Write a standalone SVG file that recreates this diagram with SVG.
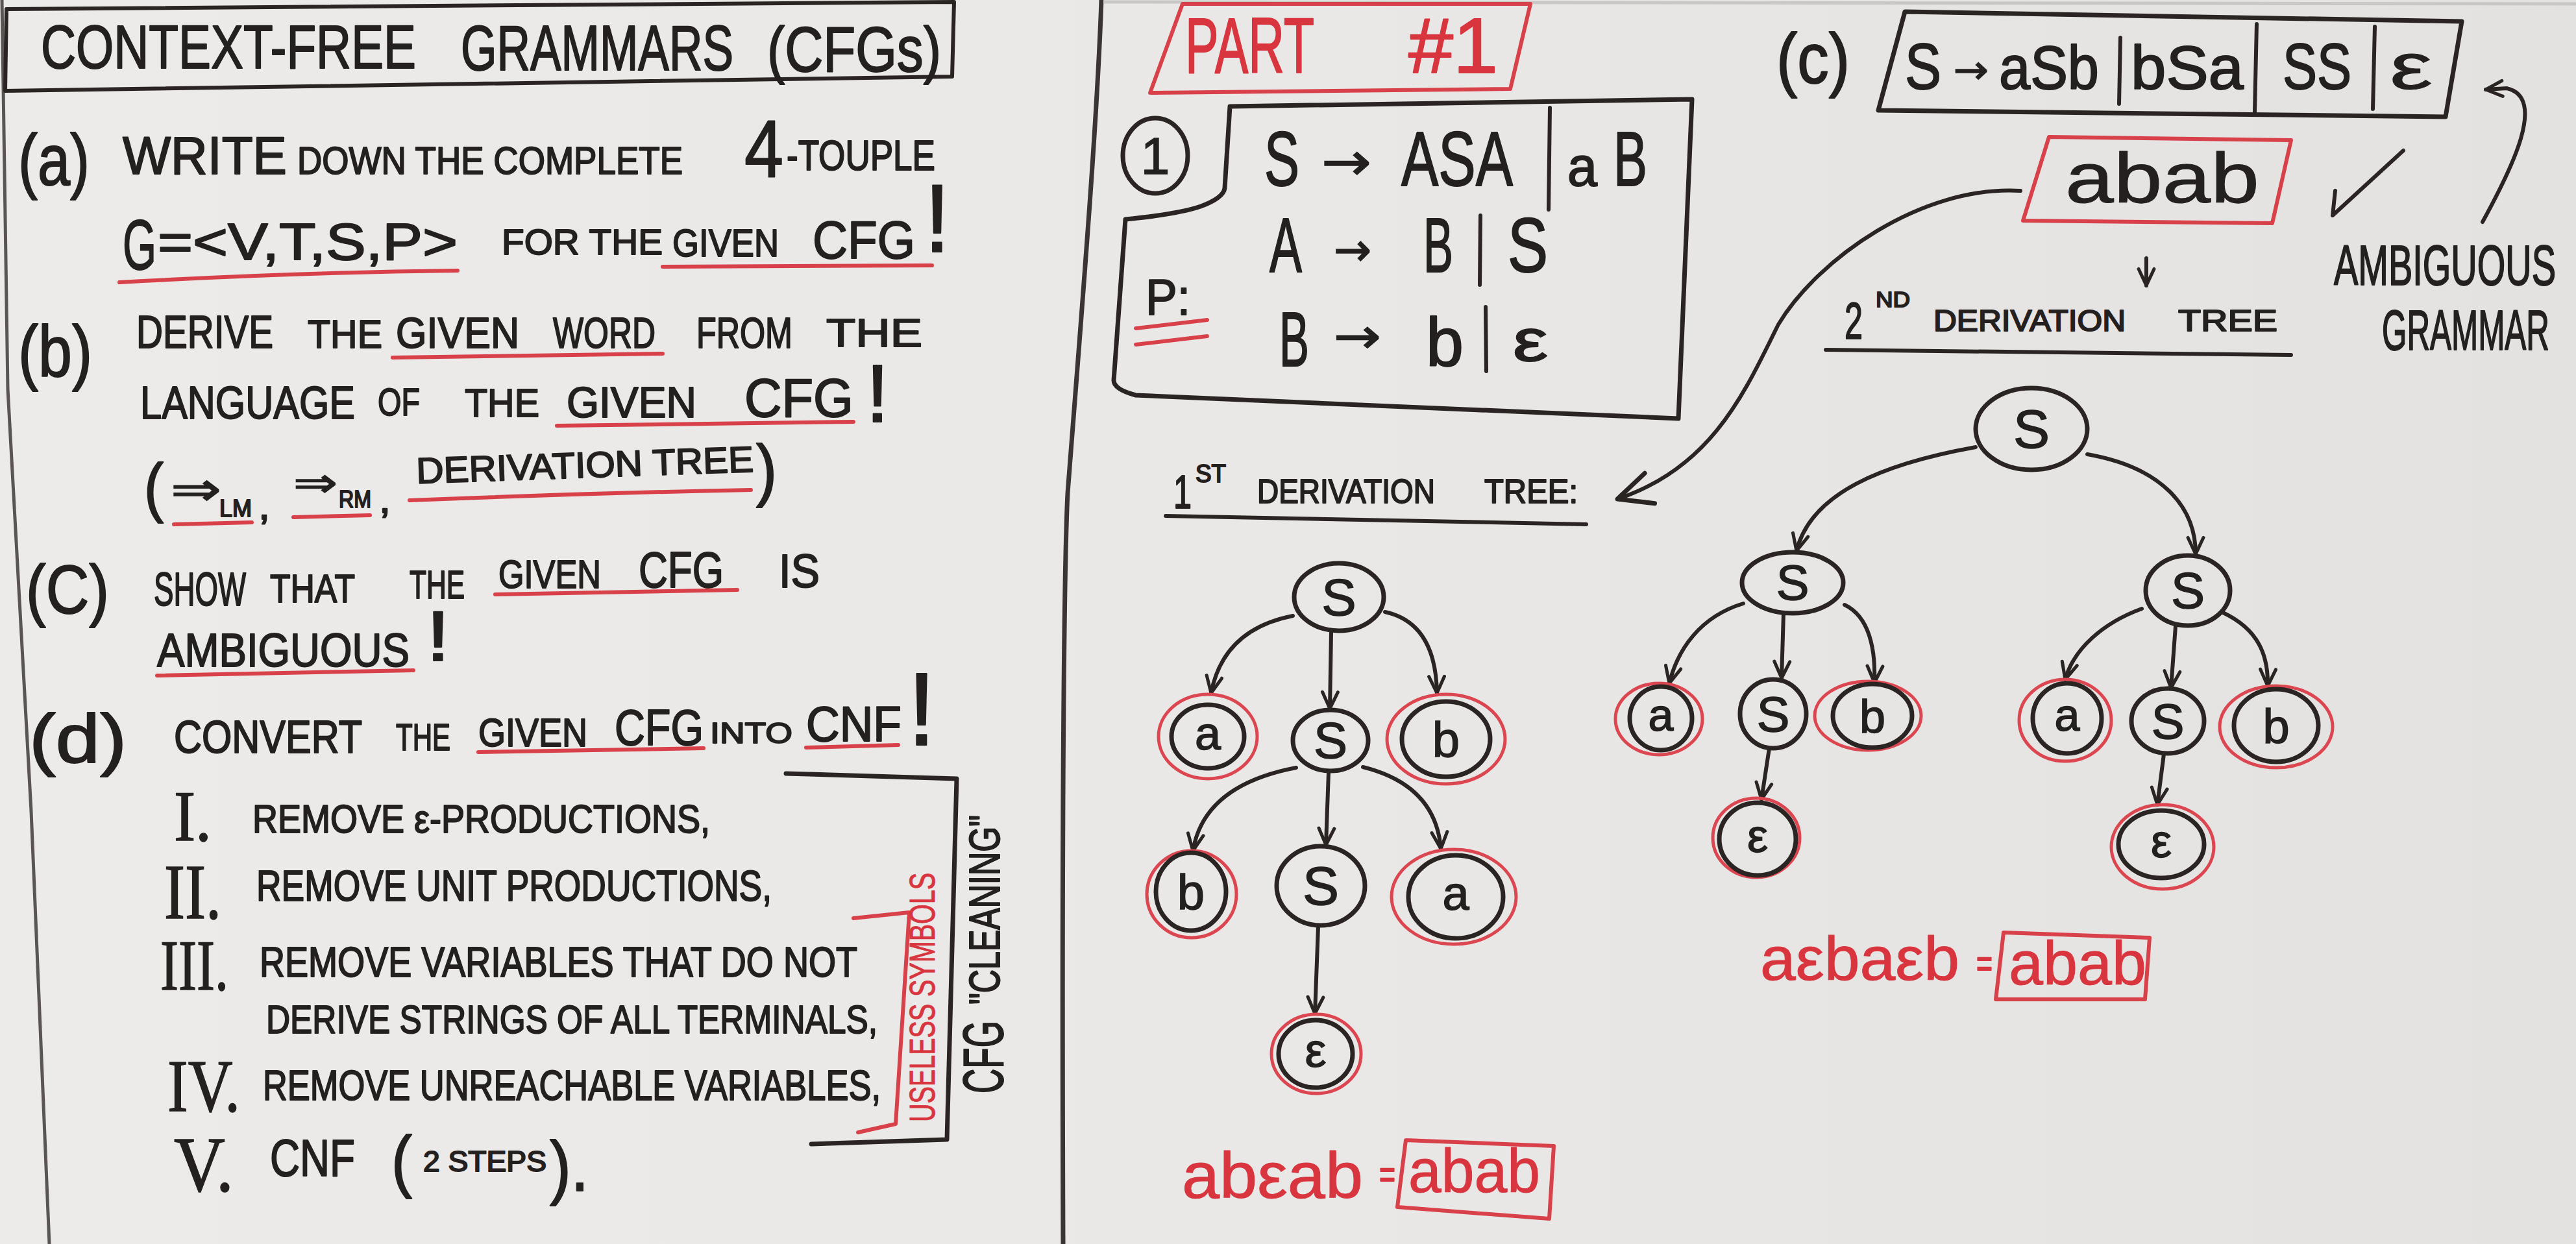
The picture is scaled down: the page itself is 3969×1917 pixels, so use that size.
<svg xmlns="http://www.w3.org/2000/svg" width="3969" height="1917" viewBox="0 0 3969 1917">
<defs>
<linearGradient id="bg" x1="0" y1="0" x2="1" y2="0">
<stop offset="0" stop-color="#ecebe9"/>
<stop offset="0.5" stop-color="#eae8e6"/>
<stop offset="1" stop-color="#e4e2e0"/>
</linearGradient>
<marker id="ah" viewBox="0 0 20 20" refX="18" refY="10" markerWidth="34" markerHeight="34" markerUnits="userSpaceOnUse" orient="auto"><path d="M3,3 L18,10 L3,17" fill="none" stroke="#2a2523" stroke-width="3" stroke-linecap="round" stroke-linejoin="round"/></marker>
<marker id="ahL" viewBox="0 0 20 20" refX="18" refY="10" markerWidth="70" markerHeight="70" markerUnits="userSpaceOnUse" orient="auto"><path d="M3,3 L18,10 L3,17" fill="none" stroke="#2a2523" stroke-width="2" stroke-linecap="round" stroke-linejoin="round"/></marker>
<style>
.hw{font-family:"Liberation Sans","DejaVu Sans",Arial,sans-serif;fill:#242020;stroke:#242020;stroke-width:2;stroke-linejoin:round}
.sf{font-family:"Liberation Serif","DejaVu Serif",serif;fill:#242020;stroke:#242020;stroke-width:1.5}
.dv{font-family:"DejaVu Sans","Liberation Sans",sans-serif;fill:#242020;stroke:#242020;stroke-width:1.5}
.rt{fill:#d8353f;stroke:#d8353f}
.ink{fill:none;stroke:#2a2523;stroke-width:8;stroke-linecap:round;stroke-linejoin:round}
.thin{fill:none;stroke:#3a3533;stroke-width:5;stroke-linecap:round;stroke-linejoin:round}
.red{fill:none;stroke:#d9414a;stroke-width:6;stroke-linecap:round;stroke-linejoin:round}
.node{fill:none;stroke:#2a2523;stroke-width:7}
.ring{fill:none;stroke:#dc4650;stroke-width:5}
.edge{fill:none;stroke:#2a2523;stroke-width:6;stroke-linecap:round;marker-end:url(#ah)}
.lbl{font-family:"Liberation Sans","DejaVu Sans",sans-serif;fill:#242020;stroke:#242020;stroke-width:1.5;text-anchor:middle}
</style>
</defs>
<rect width="3969" height="1917" fill="url(#bg)"/>

<g id="board-lines">
<path class="thin" d="M3,0 L12,600 L48,1250 L76,1917" style="stroke:#5a5553;stroke-width:5"/>
<path class="thin" d="M1697,0 C1690,200 1665,500 1645,760 C1638,900 1636,1400 1638,1917" style="stroke-width:7"/>
<path d="M1700,3 L3969,6" stroke="#c9c7c5" stroke-width="5" fill="none"/>
</g>

<g id="title">
<path class="ink" d="M10,14 L1470,3 L1467,118 L8,140 Z" style="stroke-width:6"/>
<text class="hw" x="63" y="105" font-size="95" textLength="578" lengthAdjust="spacingAndGlyphs">CONTEXT-FREE</text>
<text class="hw" x="710" y="108" font-size="98" textLength="420" lengthAdjust="spacingAndGlyphs">GRAMMARS</text>
<text class="hw" x="1182" y="110" font-size="98" textLength="268" lengthAdjust="spacingAndGlyphs">(CFGs)</text>
</g>

<g id="task-a">
<text class="hw" x="28" y="285" font-size="112" textLength="110" lengthAdjust="spacingAndGlyphs">(a)</text>
<text class="hw" x="189" y="268" font-size="82" textLength="253" lengthAdjust="spacingAndGlyphs">WRITE</text>
<text class="hw" x="458" y="268" font-size="60" textLength="594" lengthAdjust="spacingAndGlyphs">DOWN THE COMPLETE</text>
<text class="hw" x="1147" y="272" font-size="125" textLength="60" lengthAdjust="spacingAndGlyphs">4</text>
<text class="hw" x="1212" y="262" font-size="64" textLength="229" lengthAdjust="spacingAndGlyphs">-TOUPLE</text>
<text class="hw" x="189" y="415" font-size="110" textLength="52" lengthAdjust="spacingAndGlyphs">G</text>
<text class="hw" x="243" y="400" font-size="80" textLength="462" lengthAdjust="spacingAndGlyphs">=&lt;V,T,S,P&gt;</text>
<text class="hw" x="773" y="392" font-size="56" textLength="248" lengthAdjust="spacingAndGlyphs">FOR THE</text>
<text class="hw" x="1036" y="395" font-size="60" textLength="164" lengthAdjust="spacingAndGlyphs">GIVEN</text>
<text class="hw" x="1252" y="398" font-size="82" textLength="158" lengthAdjust="spacingAndGlyphs">CFG</text>
<text class="hw" x="1424" y="388" font-size="148" textLength="40" lengthAdjust="spacingAndGlyphs">!</text>
<path class="red" d="M184,435 Q450,420 705,417"/>
<path class="red" d="M1021,411 L1436,409"/>
</g>

<g id="task-b">
<text class="hw" x="28" y="580" font-size="112" textLength="114" lengthAdjust="spacingAndGlyphs">(b)</text>
<text class="hw" x="210" y="536" font-size="70" textLength="211" lengthAdjust="spacingAndGlyphs">DERIVE</text>
<text class="hw" x="474" y="536" font-size="62" textLength="115" lengthAdjust="spacingAndGlyphs">THE</text>
<text class="hw" x="610" y="536" font-size="66" textLength="190" lengthAdjust="spacingAndGlyphs">GIVEN</text>
<text class="hw" x="852" y="536" font-size="66" textLength="158" lengthAdjust="spacingAndGlyphs">WORD</text>
<text class="hw" x="1073" y="536" font-size="66" textLength="148" lengthAdjust="spacingAndGlyphs">FROM</text>
<text class="hw" x="1273" y="534" font-size="62" textLength="148" lengthAdjust="spacingAndGlyphs">THE</text>
<path class="red" d="M605,551 L1021,545"/>
<text class="hw" x="216" y="645" font-size="70" textLength="331" lengthAdjust="spacingAndGlyphs">LANGUAGE</text>
<text class="hw" x="582" y="640" font-size="60" textLength="65" lengthAdjust="spacingAndGlyphs">OF</text>
<text class="hw" x="716" y="642" font-size="62" textLength="115" lengthAdjust="spacingAndGlyphs">THE</text>
<text class="hw" x="873" y="643" font-size="66" textLength="200" lengthAdjust="spacingAndGlyphs">GIVEN</text>
<text class="hw" x="1147" y="642" font-size="84" textLength="168" lengthAdjust="spacingAndGlyphs">CFG</text>
<text class="hw" x="1334" y="650" font-size="126" textLength="36" lengthAdjust="spacingAndGlyphs">!</text>
<path class="red" d="M858,656 L1315,650"/>
<text class="hw" x="222" y="785" font-size="100" textLength="30" lengthAdjust="spacingAndGlyphs">(</text>
<text class="dv" x="263" y="778" font-size="70" textLength="78" lengthAdjust="spacingAndGlyphs">⇒</text>
<text class="hw" x="338" y="796" font-size="36" textLength="50" lengthAdjust="spacingAndGlyphs">LM</text>
<text class="hw" x="398" y="800" font-size="60" textLength="18" lengthAdjust="spacingAndGlyphs">,</text>
<text class="dv" x="452" y="765" font-size="62" textLength="68" lengthAdjust="spacingAndGlyphs">⇒</text>
<text class="hw" x="522" y="782" font-size="36" textLength="50" lengthAdjust="spacingAndGlyphs">RM</text>
<text class="hw" x="584" y="790" font-size="60" textLength="18" lengthAdjust="spacingAndGlyphs">,</text>
<text class="hw" x="642" y="745" font-size="56" textLength="520" lengthAdjust="spacingAndGlyphs" transform="rotate(-2 642 745)">DERIVATION TREE</text>
<text class="hw" x="1165" y="760" font-size="105" textLength="32" lengthAdjust="spacingAndGlyphs">)</text>
<path class="red" d="M268,808 L388,805"/>
<path class="red" d="M452,797 L570,794"/>
<path class="red" d="M631,771 Q900,760 1157,755"/>
</g>

<g id="task-c">
<text class="hw" x="40" y="945" font-size="105" textLength="128" lengthAdjust="spacingAndGlyphs">(C)</text>
<text class="hw" x="237" y="933" font-size="72" textLength="142" lengthAdjust="spacingAndGlyphs">SHOW</text>
<text class="hw" x="416" y="928" font-size="62" textLength="131" lengthAdjust="spacingAndGlyphs">THAT</text>
<text class="hw" x="631" y="922" font-size="62" textLength="85" lengthAdjust="spacingAndGlyphs">THE</text>
<text class="hw" x="768" y="906" font-size="62" textLength="158" lengthAdjust="spacingAndGlyphs">GIVEN</text>
<text class="hw" x="984" y="905" font-size="78" textLength="131" lengthAdjust="spacingAndGlyphs">CFG</text>
<text class="hw" x="1200" y="905" font-size="72" textLength="63" lengthAdjust="spacingAndGlyphs">IS</text>
<path class="red" d="M763,916 L1136,909"/>
<text class="hw" x="242" y="1027" font-size="72" textLength="389" lengthAdjust="spacingAndGlyphs">AMBIGUOUS</text>
<text class="hw" x="656" y="1018" font-size="110" textLength="38" lengthAdjust="spacingAndGlyphs">!</text>
<path class="red" d="M242,1041 L637,1033"/>
</g>

<g id="task-d">
<text class="hw" x="45" y="1175" font-size="105" textLength="150" lengthAdjust="spacingAndGlyphs">(d)</text>
<text class="hw" x="268" y="1160" font-size="70" textLength="290" lengthAdjust="spacingAndGlyphs">CONVERT</text>
<text class="hw" x="610" y="1156" font-size="58" textLength="84" lengthAdjust="spacingAndGlyphs">THE</text>
<text class="hw" x="737" y="1150" font-size="62" textLength="168" lengthAdjust="spacingAndGlyphs">GIVEN</text>
<text class="hw" x="947" y="1148" font-size="78" textLength="137" lengthAdjust="spacingAndGlyphs">CFG</text>
<text class="hw" x="1094" y="1145" font-size="44" textLength="127" lengthAdjust="spacingAndGlyphs">INTO</text>
<text class="hw" x="1242" y="1142" font-size="76" textLength="147" lengthAdjust="spacingAndGlyphs">CNF</text>
<text class="hw" x="1398" y="1148" font-size="160" textLength="44" lengthAdjust="spacingAndGlyphs">!</text>
<path class="red" d="M737,1159 L1084,1153"/>
<path class="red" d="M1242,1152 L1384,1148"/>
</g>

<g id="steps">
<text class="sf" x="268" y="1295" font-size="110" textLength="58" lengthAdjust="spacingAndGlyphs">I.</text>
<text class="hw" x="389" y="1283" font-size="62" textLength="705" lengthAdjust="spacingAndGlyphs">REMOVE ε-PRODUCTIONS,</text>
<text class="sf" x="253" y="1415" font-size="120" textLength="88" lengthAdjust="spacingAndGlyphs">II.</text>
<text class="hw" x="395" y="1388" font-size="66" textLength="794" lengthAdjust="spacingAndGlyphs">REMOVE UNIT PRODUCTIONS,</text>
<text class="sf" x="247" y="1525" font-size="110" textLength="105" lengthAdjust="spacingAndGlyphs">III.</text>
<text class="hw" x="400" y="1505" font-size="64" textLength="921" lengthAdjust="spacingAndGlyphs">REMOVE VARIABLES THAT DO NOT</text>
<text class="hw" x="410" y="1592" font-size="62" textLength="942" lengthAdjust="spacingAndGlyphs">DERIVE STRINGS OF ALL TERMINALS,</text>
<text class="sf" x="258" y="1712" font-size="115" textLength="112" lengthAdjust="spacingAndGlyphs">IV.</text>
<text class="hw" x="405" y="1695" font-size="64" textLength="952" lengthAdjust="spacingAndGlyphs">REMOVE UNREACHABLE VARIABLES,</text>
<text class="sf" x="268" y="1835" font-size="120" textLength="92" lengthAdjust="spacingAndGlyphs">V.</text>
<text class="hw" x="416" y="1812" font-size="80" textLength="131" lengthAdjust="spacingAndGlyphs">CNF</text>
<text class="hw" x="603" y="1825" font-size="105" textLength="32" lengthAdjust="spacingAndGlyphs">(</text>
<text class="hw" x="652" y="1805" font-size="44" textLength="190" lengthAdjust="spacingAndGlyphs">2 STEPS</text>
<text class="hw" x="847" y="1835" font-size="110" textLength="60" lengthAdjust="spacingAndGlyphs">).</text>
<path class="ink" d="M1211,1192 L1474,1200 L1459,1756 L1250,1763" style="stroke-width:7"/>
<path class="red" d="M1315,1415 L1401,1406 L1380,1732 L1322,1745"/>
<text class="hw rt" transform="translate(1440,1729) rotate(-90)" font-size="56" textLength="384" lengthAdjust="spacingAndGlyphs" style="stroke-width:1">USELESS SYMBOLS</text>
<text class="hw" transform="translate(1545,1685) rotate(-90)" font-size="88" textLength="112" lengthAdjust="spacingAndGlyphs">CFG</text>
<text class="hw" transform="translate(1540,1548) rotate(-90)" font-size="66" textLength="292" lengthAdjust="spacingAndGlyphs">"CLEANING"</text>
</g>

<g id="part1">
<path class="red" d="M1822,6 L2358,6 L2327,137 L1772,143 Z"/>
<text class="hw rt" x="1826" y="112" font-size="120" textLength="199" lengthAdjust="spacingAndGlyphs">PART</text>
<text class="hw rt" x="2170" y="112" font-size="120" textLength="138" lengthAdjust="spacingAndGlyphs">#1</text>
</g>

<g id="grammar-1">
<ellipse class="ink" cx="1780" cy="240" rx="50" ry="58" style="stroke-width:7"/>
<text class="lbl" x="1780" y="268" font-size="80">1</text>
<path class="ink" d="M1895,164 L2607,153 L2586,645 L1750,609 Q1716,600 1716,586 L1734,338 Q1815,330 1850,318 Q1885,305 1887,290 Z" style="stroke-width:7"/>
<text class="hw" x="1948" y="286" font-size="118" textLength="54" lengthAdjust="spacingAndGlyphs">S</text>
<text class="dv" x="2036" y="277" font-size="80" textLength="77" lengthAdjust="spacingAndGlyphs">→</text>
<text class="hw" x="2159" y="286" font-size="118" textLength="172" lengthAdjust="spacingAndGlyphs">ASA</text>
<path class="ink" d="M2388,166 L2386,323" style="stroke-width:6"/>
<text class="hw" x="2415" y="286" font-size="85" textLength="46" lengthAdjust="spacingAndGlyphs">a</text>
<text class="hw" x="2486" y="286" font-size="118" textLength="52" lengthAdjust="spacingAndGlyphs">B</text>
<text class="hw" x="1956" y="419" font-size="118" textLength="50" lengthAdjust="spacingAndGlyphs">A</text>
<text class="dv" x="2055" y="409" font-size="70" textLength="58" lengthAdjust="spacingAndGlyphs">→</text>
<text class="hw" x="2193" y="419" font-size="118" textLength="46" lengthAdjust="spacingAndGlyphs">B</text>
<path class="ink" d="M2281,332 L2280,439" style="stroke-width:6"/>
<text class="hw" x="2323" y="419" font-size="118" textLength="62" lengthAdjust="spacingAndGlyphs">S</text>
<text class="hw" x="1971" y="564" font-size="118" textLength="46" lengthAdjust="spacingAndGlyphs">B</text>
<text class="dv" x="2055" y="544" font-size="75" textLength="73" lengthAdjust="spacingAndGlyphs">→</text>
<text class="hw" x="2197" y="564" font-size="105" textLength="58" lengthAdjust="spacingAndGlyphs">b</text>
<path class="ink" d="M2289,473 L2290,572" style="stroke-width:6"/>
<text class="hw" x="2331" y="556" font-size="90" textLength="54" lengthAdjust="spacingAndGlyphs">ε</text>
<text class="hw" x="1765" y="485" font-size="78" textLength="69" lengthAdjust="spacingAndGlyphs">P:</text>
<path class="red" d="M1750,506 L1860,493"/>
<path class="red" d="M1750,531 L1860,518"/>
</g>

<g id="grammar-c">
<text class="hw" x="2737" y="128" font-size="110" textLength="113" lengthAdjust="spacingAndGlyphs">(c)</text>
<path class="ink" d="M2935,18 L3793,33 L3768,180 L2894,170 Z" style="stroke-width:7"/>
<text class="hw" x="2935" y="137" font-size="100" textLength="56" lengthAdjust="spacingAndGlyphs">S</text>
<text class="dv" x="3010" y="128" font-size="60" textLength="54" lengthAdjust="spacingAndGlyphs">→</text>
<text class="hw" x="3080" y="137" font-size="95" textLength="154" lengthAdjust="spacingAndGlyphs">aSb</text>
<path class="ink" d="M3267,58 L3265,160" style="stroke-width:6"/>
<text class="hw" x="3283" y="137" font-size="95" textLength="174" lengthAdjust="spacingAndGlyphs">bSa</text>
<path class="ink" d="M3477,37 L3474,172" style="stroke-width:6"/>
<text class="hw" x="3517" y="137" font-size="100" textLength="106" lengthAdjust="spacingAndGlyphs">SS</text>
<path class="ink" d="M3659,41 L3656,168" style="stroke-width:6"/>
<text class="hw" x="3682" y="137" font-size="100" textLength="66" lengthAdjust="spacingAndGlyphs" style="stroke-width:1">ε</text>
</g>

<g id="word-abab">
<path class="red" d="M3157,211 L3530,216 L3501,344 L3117,340 Z"/>
<text class="hw" x="3182" y="312" font-size="110" textLength="299" lengthAdjust="spacingAndGlyphs" style="stroke-width:1">abab</text>
</g>

<g id="ambiguous">
<path class="ink" d="M3598,294 L3594,332 L3703,232" style="stroke-width:6"/>
<text class="hw" x="3938" y="439" font-size="88" textLength="342" lengthAdjust="spacingAndGlyphs" text-anchor="end">AMBIGUOUS</text>
<text class="hw" x="3928" y="539" font-size="88" textLength="258" lengthAdjust="spacingAndGlyphs" text-anchor="end">GRAMMAR</text>
</g>

<g id="heading-tree-2">
<text class="hw" x="2842" y="522" font-size="80" textLength="28" lengthAdjust="spacingAndGlyphs">2</text>
<text class="hw" x="2890" y="473" font-size="34" textLength="53" lengthAdjust="spacingAndGlyphs">ND</text>
<text class="hw" x="2979" y="510" font-size="46" textLength="296" lengthAdjust="spacingAndGlyphs">DERIVATION</text>
<text class="hw" x="3356" y="510" font-size="46" textLength="153" lengthAdjust="spacingAndGlyphs">TREE</text>
<path class="ink" d="M2813,539 L3530,547" style="stroke-width:6"/>
</g>

<g id="heading-tree-1">
<text class="hw" x="1808" y="783" font-size="72" textLength="28" lengthAdjust="spacingAndGlyphs">1</text>
<text class="hw" x="1842" y="743" font-size="38" textLength="47" lengthAdjust="spacingAndGlyphs">ST</text>
<text class="hw" x="1937" y="775" font-size="52" textLength="274" lengthAdjust="spacingAndGlyphs">DERIVATION</text>
<text class="hw" x="2287" y="775" font-size="52" textLength="144" lengthAdjust="spacingAndGlyphs">TREE:</text>
<path class="ink" d="M1796,795 L2444,808" style="stroke-width:6"/>
</g>

<g id="connectors">
<path class="edge" d="M1992,949 Q1885,970 1866,1068"/>
<path class="edge" d="M2051,975 L2049,1092"/>
<path class="edge" d="M2134,943 Q2212,960 2214,1068"/>
<path class="edge" d="M1997,1183 Q1855,1210 1838,1311"/>
<path class="edge" d="M2047,1190 L2043,1302"/>
<path class="edge" d="M2100,1182 Q2212,1210 2220,1308"/>
<path class="edge" d="M2031,1428 L2026,1562"/>
<path class="edge" d="M3044,689 C2900,715 2790,760 2768,849"/>
<path class="edge" d="M3216,700 C3330,720 3383,780 3383,854"/>
<path class="edge" d="M2686,930 C2620,950 2585,1000 2572,1053"/>
<path class="edge" d="M2748,945 L2745,1045"/>
<path class="edge" d="M2842,932 C2880,950 2890,1000 2888,1052"/>
<path class="edge" d="M2726,1153 L2714,1232"/>
<path class="edge" d="M3300,938 C3240,960 3195,1000 3182,1047"/>
<path class="edge" d="M3352,965 L3345,1060"/>
<path class="edge" d="M3425,944 C3480,970 3495,1010 3494,1057"/>
<path class="edge" d="M3334,1162 L3324,1240"/>
<path class="edge" d="M3307,398 L3307,440"/>
<path class="edge" d="M3113,294 C2960,285 2800,400 2740,500 C2690,600 2640,720 2492,769" style="marker-end:url(#ahL)"/>
<path class="edge" d="M3825,342 C3870,260 3925,150 3862,136 L3830,138" style="stroke-width:6"/>
</g>

<g id="t1-root"><ellipse class="node" cx="2063" cy="920" rx="69" ry="52"/><text class="lbl" x="2063" y="948" font-size="80">S</text></g>
<g id="t1-a"><ellipse class="ring" cx="1861" cy="1135" rx="76" ry="65"/><ellipse class="node" cx="1861" cy="1135" rx="56" ry="49"/><text class="lbl" x="1861" y="1155" font-size="72">a</text></g>
<g id="t1-S1"><ellipse class="node" cx="2050" cy="1141" rx="58" ry="47"/><text class="lbl" x="2050" y="1168" font-size="78">S</text></g>
<g id="t1-b"><ellipse class="ring" cx="2228" cy="1139" rx="91" ry="69"/><ellipse class="node" cx="2228" cy="1139" rx="68" ry="58"/><text class="lbl" x="2228" y="1166" font-size="76">b</text></g>
<g id="t1-b2"><ellipse class="ring" cx="1836" cy="1378" rx="69" ry="67"/><ellipse class="node" cx="1835" cy="1374" rx="54" ry="60"/><text class="lbl" x="1835" y="1401" font-size="76">b</text></g>
<g id="t1-S2"><ellipse class="node" cx="2035" cy="1365" rx="68" ry="61"/><text class="lbl" x="2035" y="1394" font-size="84">S</text></g>
<g id="t1-a2"><ellipse class="ring" cx="2240" cy="1382" rx="96" ry="73"/><ellipse class="node" cx="2243" cy="1382" rx="73" ry="64"/><text class="lbl" x="2243" y="1402" font-size="74">a</text></g>
<g id="t1-eps"><ellipse class="ring" cx="2028" cy="1624" rx="69" ry="61"/><ellipse class="node" cx="2027" cy="1624" rx="57" ry="52"/><text class="lbl" x="2027" y="1644" font-size="74">ε</text></g>

<g id="t2-root"><ellipse class="node" cx="3130" cy="661" rx="86" ry="63"/><text class="lbl" x="3130" y="690" font-size="84">S</text></g>
<g id="t2-L"><ellipse class="node" cx="2762" cy="898" rx="78" ry="47"/><text class="lbl" x="2762" y="924" font-size="76">S</text></g>
<g id="t2-La"><ellipse class="ring" cx="2556" cy="1108" rx="67" ry="55"/><ellipse class="node" cx="2559" cy="1107" rx="48" ry="49"/><text class="lbl" x="2559" y="1126" font-size="70">a</text></g>
<g id="t2-LS"><ellipse class="node" cx="2732" cy="1100" rx="51" ry="53"/><text class="lbl" x="2732" y="1127" font-size="76">S</text></g>
<g id="t2-Lb"><ellipse class="ring" cx="2878" cy="1103" rx="82" ry="53"/><ellipse class="node" cx="2885" cy="1103" rx="61" ry="49"/><text class="lbl" x="2885" y="1129" font-size="72">b</text></g>
<g id="t2-Leps"><ellipse class="ring" cx="2706" cy="1291" rx="67" ry="61"/><ellipse class="node" cx="2708" cy="1293" rx="59" ry="56"/><text class="lbl" x="2708" y="1313" font-size="72">ε</text></g>
<g id="t2-R"><ellipse class="node" cx="3371" cy="910" rx="65" ry="54"/><text class="lbl" x="3371" y="937" font-size="78">S</text></g>
<g id="t2-Ra"><ellipse class="ring" cx="3182" cy="1110" rx="71" ry="63"/><ellipse class="node" cx="3185" cy="1107" rx="53" ry="54"/><text class="lbl" x="3185" y="1126" font-size="70">a</text></g>
<g id="t2-RS"><ellipse class="node" cx="3340" cy="1111" rx="56" ry="50"/><text class="lbl" x="3340" y="1138" font-size="76">S</text></g>
<g id="t2-Rb"><ellipse class="ring" cx="3507" cy="1120" rx="87" ry="63"/><ellipse class="node" cx="3507" cy="1118" rx="65" ry="56"/><text class="lbl" x="3507" y="1145" font-size="74">b</text></g>
<g id="t2-Reps"><ellipse class="ring" cx="3332" cy="1305" rx="79" ry="65"/><ellipse class="node" cx="3330" cy="1301" rx="66" ry="52"/><text class="lbl" x="3330" y="1321" font-size="72">ε</text></g>

<g id="result-1">
<text class="hw rt" x="1821" y="1846" font-size="100" textLength="279" lengthAdjust="spacingAndGlyphs" style="stroke-width:1">abεab</text>
<text class="hw rt" x="2125" y="1830" font-size="60" textLength="25" lengthAdjust="spacingAndGlyphs">=</text>
<path class="red" d="M2166,1757 L2394,1766 L2387,1878 L2153,1860 Z"/>
<text class="hw rt" x="2170" y="1837" font-size="95" textLength="203" lengthAdjust="spacingAndGlyphs" style="stroke-width:1">abab</text>
</g>

<g id="result-2">
<text class="hw rt" x="2712" y="1510" font-size="95" textLength="307" lengthAdjust="spacingAndGlyphs" style="stroke-width:1">aεbaεb</text>
<text class="hw rt" x="3045" y="1505" font-size="60" textLength="25" lengthAdjust="spacingAndGlyphs">=</text>
<path class="red" d="M3087,1437 L3312,1445 L3305,1540 L3075,1540 Z"/>
<text class="hw rt" x="3095" y="1517" font-size="95" textLength="212" lengthAdjust="spacingAndGlyphs" style="stroke-width:1">abab</text>
</g>
</svg>
